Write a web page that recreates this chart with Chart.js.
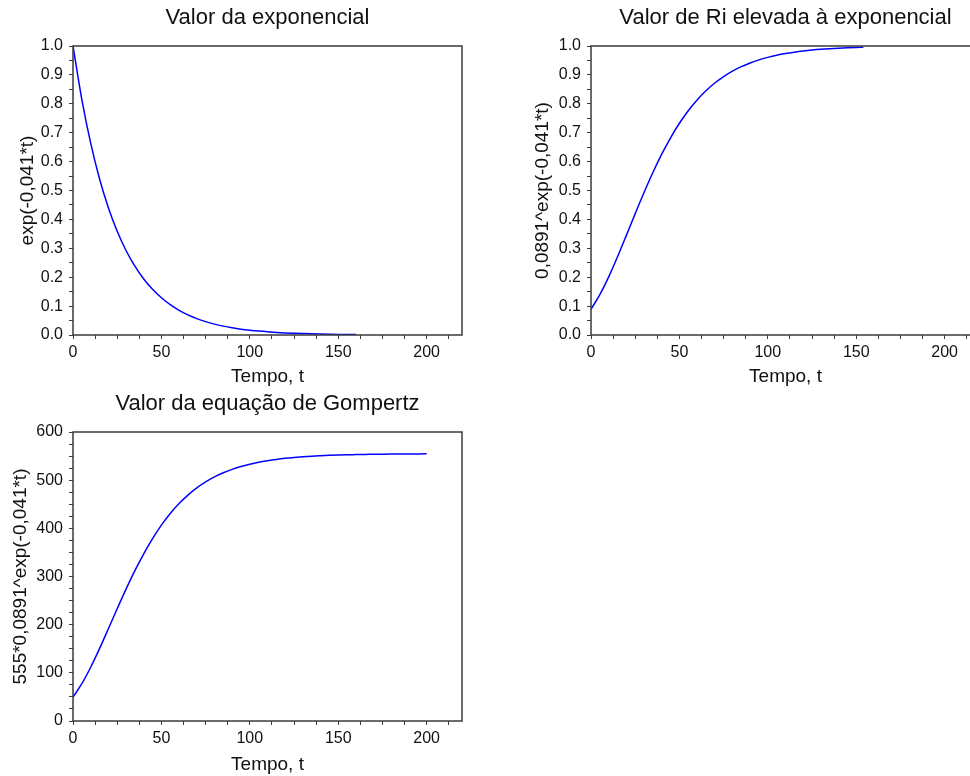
<!DOCTYPE html>
<html>
<head>
<meta charset="utf-8">
<script src="https://cdn.jsdelivr.net/npm/chart.js@4/dist/chart.umd.min.js"></script>
<style>
  html, body { margin:0; padding:0; background:#fff; overflow:hidden; width:970px; height:776px; }
  canvas { position:absolute; }
</style>
</head>
<body>
<canvas id="c1" width="480" height="390" style="left:0px;top:0px;"></canvas>
<canvas id="c2" width="480" height="390" style="left:500px;top:0px;"></canvas>
<canvas id="c3" width="480" height="392" style="left:0px;top:386px;"></canvas>
<script>
// ---- data ----
const tExp = [0,5,10,15,20,25,30,35,40,45,50,55,60,65,70,75,80,85,90,95,100,105,110,115,120,125,130,135,140,145,150,155,160];
const expVals = [1.0,0.8146,0.6637,0.5406,0.4404,0.3588,0.2923,0.2381,0.1940,0.1580,0.1287,0.1049,0.0854,0.0696,0.0567,0.0462,0.0376,0.0307,0.0250,0.0203,0.0166,0.0135,0.0110,0.0090,0.0073,0.0059,0.0048,0.0039,0.0032,0.0026,0.0021,0.0017,0.0014];

const tRi = [0,5,10,15,20,25,30,35,40,45,50,55,60,65,70,75,80,85,90,95,100,105,110,115,120,125,130,135,140,145,150,154];
const riVals = [0.0891,0.1395,0.2010,0.2706,0.3448,0.4200,0.4932,0.5623,0.6256,0.6825,0.7326,0.7760,0.8134,0.8451,0.8719,0.8943,0.9131,0.9285,0.9413,0.9521,0.9607,0.9679,0.9737,0.9785,0.9825,0.9858,0.9885,0.9906,0.9923,0.9937,0.9949,0.9956];

const tGomp = [0,5,10,15,20,25,30,35,40,45,50,55,60,65,70,75,80,85,90,95,100,105,110,115,120,125,130,135,140,145,150,155,160,165,170,175,180,185,190,195,200];
const gompVals = [49.5,77.4,111.6,150.2,191.4,233.1,273.7,312.1,347.2,378.8,406.6,430.7,451.4,469.0,483.9,496.3,506.8,515.3,522.4,528.4,533.2,537.2,540.4,543.1,545.3,547.1,548.6,549.8,550.7,551.5,552.2,552.7,553.1,553.5,553.7,554.0,554.2,554.3,554.4,554.5,554.6];

// tick labels
const xMajorTicks = [0,50,100,150,200];
const xMinorStep = 12.5;
const xMax = 220;
const yMajorTicksFrac = ['0.0','0.1','0.2','0.3','0.4','0.5','0.6','0.7','0.8','0.9','1.0'];
const yMinorStepFrac = 0.05;
const yMajorTicksGomp = [0,100,200,300,400,500,600];
const yMinorStepGomp = 25;

const titles = ['Valor da exponencial','Valor de Ri elevada à exponencial','Valor da equação de Gompertz'];
const yTitles = ['exp(-0,041*t)','0,0891^exp(-0,041*t)','555*0,0891^exp(-0,041*t)'];
const xTitle = 'Tempo, t';

// ---- drawing ----
const FAM = '"Liberation Sans", Arial, Helvetica, sans-serif';
const AXC = '#3a3a3a';
const TXT = '#111';

const framePlugin = {
  id: 'frame',
  afterDatasetsDraw(chart) {
    const {ctx, chartArea: a} = chart;
    ctx.save();
    ctx.strokeStyle = AXC;
    ctx.lineWidth = 1.5;
    ctx.strokeRect(a.left, a.top, a.right - a.left, a.bottom - a.top);
    ctx.restore();
  }
};

function stepValues(min, max, step) {
  const out = [];
  const n = Math.floor((max - min) / step + 1e-9);
  for (let i = 0; i <= n; i++) out.push(+(min + i * step).toFixed(6));
  return out;
}

function makeChart(id, xs, ys, opts) {
  const data = xs.map((x, i) => ({x: x, y: ys[i]}));
  const xTickVals = stepValues(0, xMax, xMinorStep);
  const yTickVals = stepValues(opts.yMin, opts.yMax, opts.yStep);
  return new Chart(document.getElementById(id), {
    type: 'line',
    data: { datasets: [{ data: data, borderColor: '#0000ff', borderWidth: 1.5, pointRadius: 0, fill: false, cubicInterpolationMode: 'monotone' }] },
    options: {
      responsive: false,
      animation: false,
      devicePixelRatio: 1,
      layout: { padding: { left: 0, right: opts.padRight, top: 0, bottom: 0 } },
      plugins: {
        legend: { display: false },
        tooltip: { enabled: false },
        title: {
          display: true, text: opts.title, fullSize: false, color: TXT,
          font: { size: 22, family: FAM, weight: 'normal', lineHeight: 1.2 },
          padding: { top: 5, bottom: 14.6 }
        }
      },
      scales: {
        x: {
          type: 'linear', min: 0, max: xMax,
          afterBuildTicks: s => { s.ticks = xTickVals.map(v => ({value: v})); },
          afterFit: s => { s.height = opts.xHeight; },
          grid: { display: true, drawOnChartArea: false, drawTicks: true, tickLength: 4, color: AXC, lineWidth: 1 },
          border: { display: false },
          ticks: { padding: 4, color: TXT, autoSkip: false, maxRotation: 0, font: { size: 16, family: FAM },
                   callback: v => xMajorTicks.includes(v) ? String(v) : '' },
          title: { display: true, text: xTitle, color: TXT, font: { size: 19, family: FAM, lineHeight: 1.2 }, padding: { top: 0, bottom: 1.5 } }
        },
        y: {
          type: 'linear', min: opts.yMin, max: opts.yMax,
          afterBuildTicks: s => { s.ticks = yTickVals.map(v => ({value: v})); },
          afterFit: s => { s.width = opts.yWidth; },
          grid: { display: true, drawOnChartArea: false, drawTicks: true, tickLength: 4, color: AXC, lineWidth: 1 },
          border: { display: false },
          ticks: { padding: 6, color: TXT, autoSkip: false, font: { size: 16, family: FAM }, callback: opts.yLabel },
          title: { display: true, text: opts.yTitle, color: TXT, font: { size: 19, family: FAM, lineHeight: 1.2 }, padding: { top: opts.yTitlePad, bottom: 0 } }
        }
      }
    },
    plugins: [framePlugin]
  });
}

const fracLabel = v => { const k = Math.round(v * 100); return k % 10 === 0 ? yMajorTicksFrac[k / 10] : ''; };
const gompLabel = v => { const k = Math.round(v); return yMajorTicksGomp.includes(k) ? String(k) : ''; };

makeChart('c1', tExp, expVals, { title: titles[0], yTitle: yTitles[0], yMin: 0, yMax: 1, yStep: yMinorStepFrac, yLabel: fracLabel, yWidth: 73, yTitlePad: 16, padRight: 18, xHeight: 55 });
makeChart('c2', tRi, riVals, { title: titles[1], yTitle: yTitles[1], yMin: 0, yMax: 1, yStep: yMinorStepFrac, yLabel: fracLabel, yWidth: 91, yTitlePad: 31.6, padRight: 0, xHeight: 55 });
makeChart('c3', tGomp, gompVals, { title: titles[2], yTitle: yTitles[2], yMin: 0, yMax: 600, yStep: yMinorStepGomp, yLabel: gompLabel, yWidth: 73, yTitlePad: 9.5, padRight: 18, xHeight: 57 });
</script>
</body>
</html>
